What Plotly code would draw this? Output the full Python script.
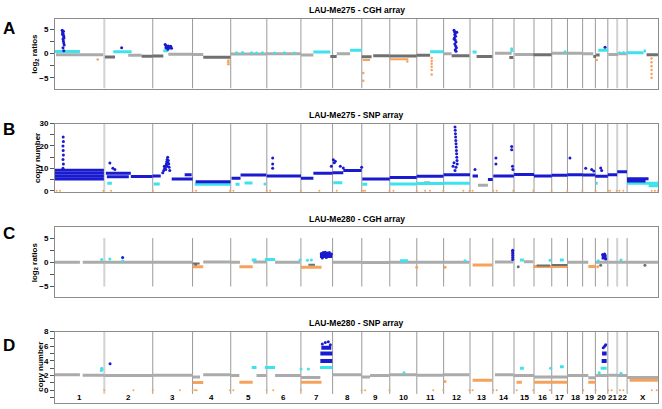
import plotly.graph_objects as go

# ---------------- data ----------------
chrom_names = [str(i) for i in range(1, 23)] + ["X"]
chrom_len = [247.2, 242.8, 199.5, 191.3, 180.9, 170.9, 158.8, 146.3, 140.3, 135.4,
             134.5, 132.3, 114.1, 106.4, 100.3, 88.8, 78.8, 76.1, 63.8, 62.4,
             46.9, 49.7, 154.9]

titles = ["LAU-Me275 - CGH array", "LAU-Me275 - SNP array",
          "LAU-Me280 - CGH array", "LAU-Me280 - SNP array"]
panel_letters = ["A", "B", "C", "D"]
y_titles = ["log<sub>2</sub> ratios", "copy number", "log<sub>2</sub> ratios", "copy number"]

# segments: (start Mb genome-wide, end Mb genome-wide, value)
A_lg = [(5, 242, -0.25), (367, 434, -0.35), (568, 690, -0.15), (690, 743, -0.2),
        (880, 1059, -0.1), (1059, 1233, -0.05), (1233, 1295, -0.3), (1412, 1479, 0.0),
        (1946, 1988, 0.0), (2205, 2289, 0.1), (2305, 2397, -0.2), (2489, 2568, 0.1),
        (2568, 2643, 0.1), (2643, 2698, 0.0), (2773, 2823, -0.2), (2823, 2865, -0.05)]
A_dg = [(250, 301, -0.7), (434, 490, -0.55), (490, 543, -0.5), (743, 880, -0.75),
        (1380, 1412, -0.6), (1537, 1587, -0.65), (1595, 1676, -0.45), (1676, 1813, -0.5),
        (1813, 1880, -0.35), (1988, 2077, -0.45), (2113, 2192, -0.6), (2277, 2297, -0.8),
        (2397, 2489, -0.25), (2698, 2712, -0.6), (2712, 2730, -0.3), (2965, 3022, -0.25)]
A_cy = [(0, 125, 0.45), (292, 384, 0.4), (543, 568, 0.6), (1295, 1380, 0.35),
        (1479, 1537, 0.7), (1880, 1946, 0.4), (2093, 2113, 0.35), (2723, 2773, 0.7),
        (2865, 2950, 0.2), (2950, 2962, 0.55)]
A_or = [(1542, 1579, -1.3), (1679, 1771, -1.15)]
A_cy_pts = [(910, 0.2), (940, 0.25), (985, 0.2), (1010, 0.15), (1040, 0.2), (1100, 0.15),
            (1150, 0.2), (1200, 0.15), (2556, 0.4), (2289, 1.0), (2289, 0.6), (2830, 0.2),
            (2850, 0.25)]
A_bl_pts = [(36, 4.8), (38, 4.5), (40, 4.2), (42, 3.8), (44, 3.5), (40, 3.0), (42, 2.6),
            (44, 2.2), (46, 1.8), (40, 1.2), (44, 0.6), (38, 4.0), (42, 4.6), (45, 3.2),
            (334, 1.2),
            (552, 1.9), (556, 1.7), (560, 1.5), (564, 1.3), (568, 1.6), (572, 1.4),
            (576, 1.2), (580, 1.5), (556, 1.2), (566, 0.9), (584, 1.1),
            (2000, 4.8), (2003, 4.5), (2006, 4.2), (2004, 3.9), (2008, 3.6), (2002, 3.2),
            (2006, 2.8), (2010, 2.4), (2004, 2.0), (2008, 1.6), (2012, 1.2), (2006, 0.8),
            (2010, 0.5), (2014, 4.4), (2000, 3.0),
            (2757, 1.3)]
A_or_pts = [(214, -1.2), (869, -1.4), (869, -1.8), (869, -2.2), (1545, -4.0), (1545, -5.6),
            (1766, -1.6), (1888, -0.9), (1888, -1.5), (1888, -2.1), (1888, -2.7),
            (1888, -3.4), (1888, -4.3), (2715, -1.3), (2990, -1.0), (2990, -1.8),
            (2990, -2.6), (2990, -3.4), (2990, -4.2), (2990, -5.0)]

B_bl = [(0, 245, 5.2), (0, 245, 6.5), (0, 245, 7.8), (0, 245, 9.2), (255, 380, 7.8),
        (260, 370, 6.2), (380, 489, 6.4), (490, 530, 6.6), (585, 690, 5.3), (650, 685, 7.2),
        (705, 880, 4.0), (885, 930, 5.6), (930, 1059, 7.0), (1061, 1233, 6.6),
        (1233, 1295, 5.6), (1295, 1391, 7.8), (1391, 1445, 8.0), (1445, 1537, 9.0),
        (1540, 1678, 5.3), (1678, 1813, 5.9), (1813, 1947, 6.5), (1948, 2080, 7.2),
        (2093, 2120, 6.6), (2170, 2194, 5.0), (2197, 2300, 6.6), (2301, 2401, 7.3),
        (2401, 2490, 6.6), (2490, 2568, 6.9), (2568, 2645, 7.1), (2645, 2708, 7.0),
        (2708, 2771, 6.5), (2771, 2818, 7.2), (2818, 2867, 8.5), (2867, 2975, 5.4),
        (2867, 2960, 4.4)]
B_cy = [(700, 880, 2.9), (905, 925, 2.9), (950, 990, 3.5), (1395, 1440, 3.6),
        (1540, 1565, 2.9), (1678, 1813, 3.0), (1813, 1947, 3.2), (1948, 2080, 3.3),
        (2710, 2720, 3.4), (2867, 3022, 3.3), (2975, 3022, 2.2), (495, 525, 3.0),
        (262, 285, 3.4)]
B_lg = [(1850, 1880, 3.6), (2120, 2170, 2.4)]
B_bl_pts = [(40, 10), (42, 12), (40, 14), (42, 16), (41, 18), (40, 20), (42, 22), (41, 24),
            (275, 12.4), (290, 10.0), (300, 9.5),
            (540, 8), (545, 9), (550, 10), (555, 11), (558, 12), (560, 13), (562, 14),
            (565, 15), (568, 13.5), (570, 12), (572, 10.5), (575, 9), (548, 11),
            (555, 9.5), (562, 11), (566, 12.5),
            (1091, 14.6), (1091, 12.0), (1091, 10.0), (1385, 11.0), (1395, 13.9),
            (1400, 12.5), (1405, 13.2), (1430, 11.0), (1445, 10.2), (1537, 10.5),
            (2005, 28.5), (2006, 27.0), (2007, 25.5), (2008, 24.0), (2009, 22.5),
            (2010, 21.0), (2011, 19.5), (2012, 18.0), (2013, 16.5), (2014, 15.0),
            (2015, 13.5), (2016, 12.0), (2010, 10.5), (2005, 9.0), (1995, 11.0),
            (2000, 12.5),
            (2105, 9.5), (2210, 14.6), (2210, 12.0), (2289, 19.8), (2289, 18.3),
            (2293, 11.0), (2295, 9.5), (2581, 14.6), (2660, 10.0), (2690, 9.5),
            (2700, 8.8), (2735, 10.2), (2740, 9.0)]
B_cy_pts = [(1052, 3.0)]
B_or_pts = [8, 25, 242, 281, 490, 690, 707, 877, 894, 1061, 1078, 1233, 1325, 1412, 1537,
            1545, 1554, 1676, 1696, 1813, 1855, 1880, 1946, 2047, 2077, 2093, 2197, 2214,
            2297, 2397, 2489, 2568, 2643, 2710, 2773, 2782, 2815, 2829, 2849, 2991, 3007,
            3022]

C_lg = [(0, 125, 0), (139, 247, 0), (247, 490, 0), (490, 690, 0), (743, 880, 0.05),
        (880, 927, 0), (994, 1059, 0.05), (1103, 1228, 0), (1391, 1537, 0),
        (1537, 1678, -0.05), (1678, 1813, 0), (1813, 1947, 0), (1948, 2077, 0),
        (2205, 2297, 0.05), (2350, 2397, 0.1), (2568, 2645, 0), (2645, 2673, 0),
        (2710, 2773, 0), (2773, 2818, 0), (2818, 2867, 0), (2867, 3022, 0)]
C_dg = [(690, 725, -0.25), (1270, 1303, -0.5), (2414, 2481, -0.65), (2489, 2567, -0.55)]
C_or = [(690, 743, -0.9), (924, 991, -0.9), (1233, 1336, -1.0), (2093, 2192, -0.55),
        (2397, 2489, -0.85), (2489, 2568, -0.85), (2673, 2710, -0.85)]
C_cy = [(986, 1010, 0.5), (1052, 1103, 0.6), (1729, 1770, 0.3), (2331, 2350, 0.5),
        (2531, 2550, 0.5)]
C_bl = [(1328, 1390, 1.4), (2740, 2765, 1.1)]
C_cy_pts = [(234, 0.6), (275, 0.7), (339, 0.25), (1228, 0.45), (1265, 0.4), (1285, 0.5),
            (2055, 0.3), (2481, 0.4), (2723, 0.3), (2837, 0.5)]
C_bl_pts = [(339, 1.0), (1335, 1.8), (1345, 2.0), (1355, 2.1), (1365, 1.9), (1375, 2.0),
            (1385, 1.7), (1340, 0.9), (1360, 1.0), (2294, 0.6), (2294, 1.0), (2294, 1.4),
            (2294, 1.8), (2294, 2.2), (2294, 2.5), (2745, 1.6), (2755, 1.7), (2760, 0.7)]
C_or_pts = [(1813, -1.0), (1955, -1.0), (2720, -0.9)]
C_dg_pts = [(2322, -0.9), (2735, -0.6), (2957, -0.6), (705, -0.4)]

D_lg = [(0, 125, 2.1), (139, 247, 2.05), (247, 490, 2.0), (490, 690, 2.05), (690, 727, 1.8),
        (743, 880, 2.1), (880, 924, 2.0), (1010, 1059, 2.0), (1103, 1233, 2.0),
        (1233, 1330, 1.75), (1391, 1537, 2.1), (1537, 1579, 1.8), (1579, 1678, 2.0),
        (1678, 1813, 2.1), (1813, 1947, 2.05), (1948, 2077, 2.1), (2205, 2297, 2.1),
        (2297, 2401, 2.0), (2401, 2490, 1.8), (2490, 2568, 1.8), (2568, 2645, 2.0),
        (2645, 2673, 2.0), (2673, 2710, 1.7), (2710, 2773, 2.0), (2773, 2818, 2.05),
        (2818, 2867, 2.0), (2867, 3022, 1.75)]
D_or = [(690, 743, 1.05), (924, 991, 1.1), (1233, 1336, 1.1), (2093, 2192, 1.35),
        (2313, 2340, 1.1), (2401, 2490, 1.1), (2490, 2568, 1.1), (2673, 2710, 1.1),
        (2880, 3022, 1.35)]
D_cy = [(986, 1010, 3.1), (1052, 1103, 3.1), (1328, 1390, 3.1), (2331, 2350, 3.0),
        (2531, 2550, 3.2), (2735, 2765, 3.0)]
D_bl = [(1330, 1390, 4.0), (1330, 1390, 5.0), (1335, 1385, 5.8), (2740, 2765, 4.0),
        (2742, 2765, 5.0)]
D_cy_pts = [(232, 2.7), (234, 3.0), (236, 2.8), (1233, 2.9), (1270, 2.9), (1749, 2.4),
            (2484, 3.0), (2728, 2.4), (2837, 2.3)]
D_bl_pts = [(276, 3.6), (1340, 6.3), (1355, 6.5), (1370, 6.6), (1380, 6.2),
            (2748, 5.8), (2755, 6.0), (2760, 6.2)]
D_or_pts_line = [(1955, 1.2)]
D_or_pts = [247, 393, 490, 626, 690, 702, 710, 877, 894, 1061, 1094, 1233, 1537, 1554,
            1676, 1896, 1946, 2077, 2093, 2197, 2214, 2314, 2397, 2481, 2568, 2648, 2710,
            2773, 2790, 2832, 2849, 2991, 3016]

# ---------------- styling ----------------
LG = "#ABABAB"
DG = "#707070"
CY = "#3DE2EC"
BL = "#1A1AD0"
OR = "#F5A35C"
FONT = "Liberation Sans, Arial, sans-serif"

offsets = [0]
for L in chrom_len:
    offsets.append(offsets[-1] + L)
total = offsets[-1]
centers = [(offsets[i] + offsets[i + 1]) / 2 for i in range(len(chrom_len))]

fig = go.Figure()


def seg_trace(segs, color, width, k):
    xs, ys = [], []
    for a, b, v in segs:
        xs += [a, b, None]
        ys += [v, v, None]
    sfx = "" if k == 1 else str(k)
    fig.add_trace(go.Scatter(x=xs, y=ys, mode="lines", line=dict(color=color, width=width),
                             xaxis="x" + sfx, yaxis="y" + sfx, hoverinfo="skip",
                             showlegend=False))


def pt_trace(pts, color, size, k):
    sfx = "" if k == 1 else str(k)
    fig.add_trace(go.Scatter(x=[p[0] for p in pts], y=[p[1] for p in pts], mode="markers",
                             marker=dict(color=color, size=size, line=dict(width=0)),
                             xaxis="x" + sfx, yaxis="y" + sfx, hoverinfo="skip",
                             showlegend=False))


# Panel A
seg_trace(A_lg, LG, 3, 1); seg_trace(A_dg, DG, 3, 1); seg_trace(A_or, OR, 2, 1)
seg_trace(A_cy, CY, 3, 1); pt_trace(A_cy_pts, CY, 3, 1); pt_trace(A_or_pts, OR, 2.5, 1)
pt_trace(A_bl_pts, BL, 3, 1)
# Panel B
seg_trace(B_lg, LG, 3, 2); seg_trace(B_cy, CY, 3, 2); seg_trace(B_bl, BL, 3, 2)
pt_trace(B_cy_pts, CY, 3, 2); pt_trace(B_bl_pts, BL, 3, 2)
pt_trace([(x, 0) for x in B_or_pts], OR, 2, 2)
# Panel C
seg_trace(C_lg, LG, 3, 3); seg_trace(C_or, OR, 3, 3); seg_trace(C_dg, DG, 2, 3)
seg_trace(C_cy, CY, 3, 3); pt_trace(C_cy_pts, CY, 3, 3); pt_trace(C_or_pts, OR, 3, 3)
pt_trace(C_dg_pts, DG, 3, 3); seg_trace(C_bl, BL, 5, 3); pt_trace(C_bl_pts, BL, 3, 3)
# Panel D
seg_trace(D_lg, LG, 3, 4); seg_trace(D_or, OR, 3, 4); seg_trace(D_cy, CY, 3, 4)
pt_trace(D_cy_pts, CY, 3, 4); pt_trace(D_or_pts_line, OR, 3, 4)
seg_trace(D_bl, BL, 4, 4); pt_trace(D_bl_pts, BL, 3, 4)
pt_trace([(x, 0) for x in D_or_pts], OR, 2, 4)

# axes
H = 409.0
doms = [(1 - 86 / H, 1 - 15 / H), (1 - 191.7 / H, 1 - 121.7 / H),
        (1 - 298.3 / H, 1 - 227.3 / H), (1 - 406 / H, 1 - 333.3 / H)]
yranges = [[-7.2, 7.2], [-0.75, 30], [-7.2, 7.2], [-1.75, 8]]
major_dt = [5, 10, 5, 2]
minor_dt = [2.5, 5, 2.5, 1]
sep_ranges = [(-7.2, 7.2), (-0.75, 30), (-5, 5), (-0.5, 8)]
line_col = "#8C8C8C"
tick_col = "#555555"

layout = dict(width=662, height=409, margin=dict(l=55, r=4, t=0, b=0),
              paper_bgcolor="white", plot_bgcolor="white", showlegend=False,
              font=dict(family=FONT, size=8, color="black"))
shapes = []
annotations = []
for k in range(1, 5):
    sfx = "" if k == 1 else str(k)
    layout["xaxis" + sfx] = dict(domain=[0, 1], range=[0, total], anchor="y" + sfx,
                                 showticklabels=False, ticks="", showgrid=False,
                                 zeroline=False, showline=True, mirror=True,
                                 linecolor=line_col, linewidth=1, fixedrange=True)
    layout["yaxis" + sfx] = dict(domain=list(doms[k - 1]), range=yranges[k - 1],
                                 anchor="x" + sfx, tick0=0, dtick=major_dt[k - 1],
                                 ticks="outside", ticklen=4, tickcolor=tick_col,
                                 minor=dict(tick0=0, dtick=minor_dt[k - 1], ticks="outside",
                                            ticklen=4, tickcolor=tick_col, showgrid=False),
                                 tickfont=dict(family=FONT, size=8, color="black",
                                               weight="bold"),
                                 showgrid=False, zeroline=False, showline=True, mirror=True,
                                 linecolor=line_col, linewidth=1, fixedrange=True)
    layout["yaxis" + str(k + 4)] = dict(overlaying="y" + sfx, anchor="x" + sfx, side="right",
                                        range=yranges[k - 1], tick0=0, dtick=minor_dt[k - 1],
                                        ticks="inside", ticklen=4, tickcolor=tick_col,
                                        showticklabels=False, showgrid=False,
                                        zeroline=False, showline=False, fixedrange=True)
    # chromosome separators
    y0, y1 = sep_ranges[k - 1]
    for i in range(1, len(chrom_len)):
        light = i in (1, 21)
        shapes.append(dict(type="line", xref="x" + sfx, yref="y" + sfx,
                           x0=offsets[i], x1=offsets[i], y0=y0, y1=y1,
                           line=dict(color="#D2D2D2" if light else "#9A9A9A",
                                     width=2 if light else 1), layer="below"))
    # title
    top_px = [15, 121.7, 227.3, 333.3][k - 1]
    annotations.append(dict(text="<b>" + titles[k - 1] + "</b>", xref="paper", yref="paper",
                            x=0.5, y=1 - (top_px - 8.5) / H, xanchor="center",
                            yanchor="middle", showarrow=False,
                            font=dict(family=FONT, size=8.5, color="black")))
    # panel letter
    let_y = [25, 128, 233, 347][k - 1]
    annotations.append(dict(text="<b>" + panel_letters[k - 1] + "</b>", xref="paper",
                            yref="paper", x=(9 - 55) / 603.0, y=1 - let_y / H,
                            xanchor="center", yanchor="middle", showarrow=False,
                            font=dict(family=FONT, size=17, color="black")))
    # y title
    tx = [35, 37, 35, 40.5][k - 1]
    annotations.append(dict(text="<b>" + y_titles[k - 1] + "</b>", xref="paper",
                            yref="paper", x=(tx - 55) / 603.0,
                            y=(doms[k - 1][0] + doms[k - 1][1]) / 2, textangle=-90,
                            xanchor="center", yanchor="middle", showarrow=False,
                            font=dict(family=FONT, size=8, color="black")))

for name, c in zip(chrom_names, centers):
    annotations.append(dict(text="<b>" + name + "</b>", xref="x4", yref="y4", x=c, y=-1.05,
                            xanchor="center", yanchor="middle", showarrow=False,
                            font=dict(family=FONT, size=8, color="black")))

layout["shapes"] = shapes
layout["annotations"] = annotations
fig.update_layout(**layout)
fig.write_html("out.html", config={"displayModeBar": False},
               post_script="document.body.style.margin='0';")
